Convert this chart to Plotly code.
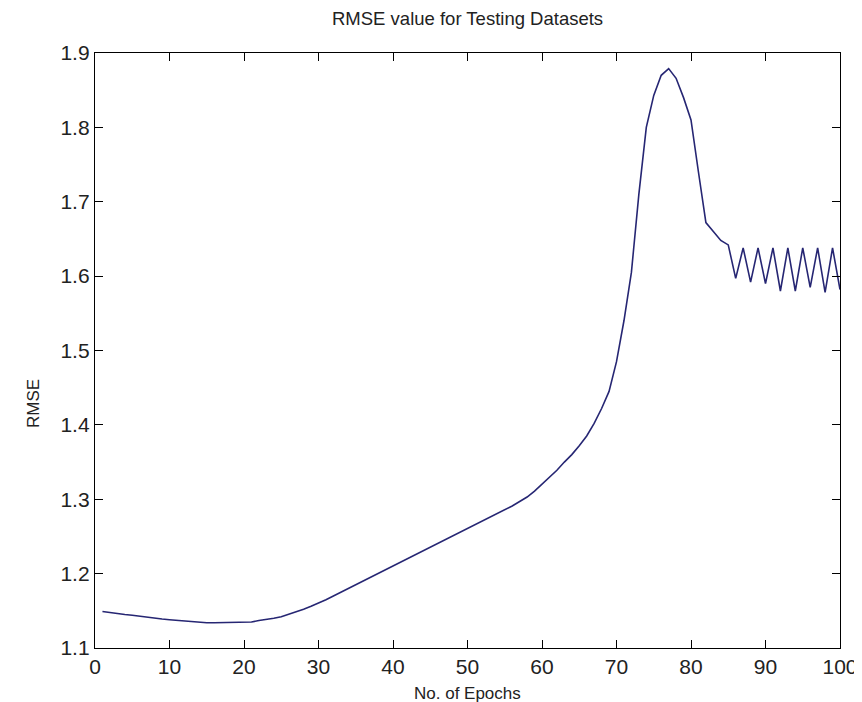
import plotly.graph_objects as go

epochs = list(range(1, 101))
rmse = [
    1.149, 1.148, 1.146, 1.145, 1.144, 1.143, 1.141, 1.140, 1.139, 1.138,
    1.137, 1.136, 1.135, 1.134, 1.134, 1.134, 1.134, 1.134, 1.134, 1.134,
    1.135, 1.137, 1.138, 1.140, 1.142, 1.145, 1.148, 1.152, 1.156, 1.160,
    1.165, 1.170, 1.175, 1.180, 1.185, 1.190, 1.195, 1.200, 1.205, 1.211,
    1.216, 1.221, 1.226, 1.231, 1.236, 1.241, 1.246, 1.251, 1.256, 1.261,
    1.266, 1.271, 1.276, 1.281, 1.286, 1.291, 1.297, 1.303, 1.311, 1.320,
    1.329, 1.339, 1.350, 1.360, 1.372, 1.385, 1.402, 1.422, 1.445, 1.485,
    1.540, 1.605, 1.710, 1.800, 1.843, 1.870, 1.879, 1.866, 1.840, 1.810,
    1.740, 1.672, 1.660, 1.648, 1.642, 1.597, 1.638, 1.592, 1.638, 1.590,
    1.638, 1.580, 1.638, 1.580, 1.638, 1.585, 1.638, 1.578, 1.638, 1.582,
]
x_ticks = [0, 10, 20, 30, 40, 50, 60, 70, 80, 90, 100]
y_ticks = [1.1, 1.2, 1.3, 1.4, 1.5, 1.6, 1.7, 1.8, 1.9]
y_tick_labels = ["1.1", "1.2", "1.3", "1.4", "1.5", "1.6", "1.7", "1.8", "1.9"]

FONT = "Liberation Sans, Arial, sans-serif"

fig = go.Figure()
fig.add_trace(go.Scatter(x=epochs, y=rmse, mode="lines",
                         line=dict(color="#262673", width=1.6),
                         showlegend=False, hoverinfo="skip"))

axis_common = dict(showgrid=False, zeroline=False, showline=True,
                   linecolor="#000000", linewidth=1.3, mirror="allticks",
                   ticks="inside", ticklen=8, tickwidth=1, tickcolor="#000000",
                   tickfont=dict(family=FONT, size=21, color="#222222"))

fig.update_xaxes(range=[0, 100], tickvals=x_ticks, **axis_common)
fig.update_yaxes(range=[1.1, 1.9], tickvals=y_ticks, ticktext=y_tick_labels,
                 **axis_common)

fig.update_layout(
    width=862, height=702,
    margin=dict(l=87, r=19, t=45, b=62),
    paper_bgcolor="white", plot_bgcolor="white",
    annotations=[
        dict(text="RMSE value for Testing Datasets", x=0.5, y=1,
             xref="paper", yref="paper", yshift=22, showarrow=False,
             yanchor="bottom", xanchor="center",
             font=dict(family=FONT, size=18.5, color="#222222")),
        dict(text="No. of Epochs", x=0.5, y=0, xref="paper", yref="paper",
             yshift=-34, showarrow=False, yanchor="top", xanchor="center",
             font=dict(family=FONT, size=17, color="#222222")),
        dict(text="RMSE", x=0, y=0.41, xref="paper", yref="paper",
             xshift=-62, showarrow=False, textangle=-90,
             xanchor="center", yanchor="middle",
             font=dict(family=FONT, size=17, color="#222222")),
    ],
)

fig.write_html("out.html")
